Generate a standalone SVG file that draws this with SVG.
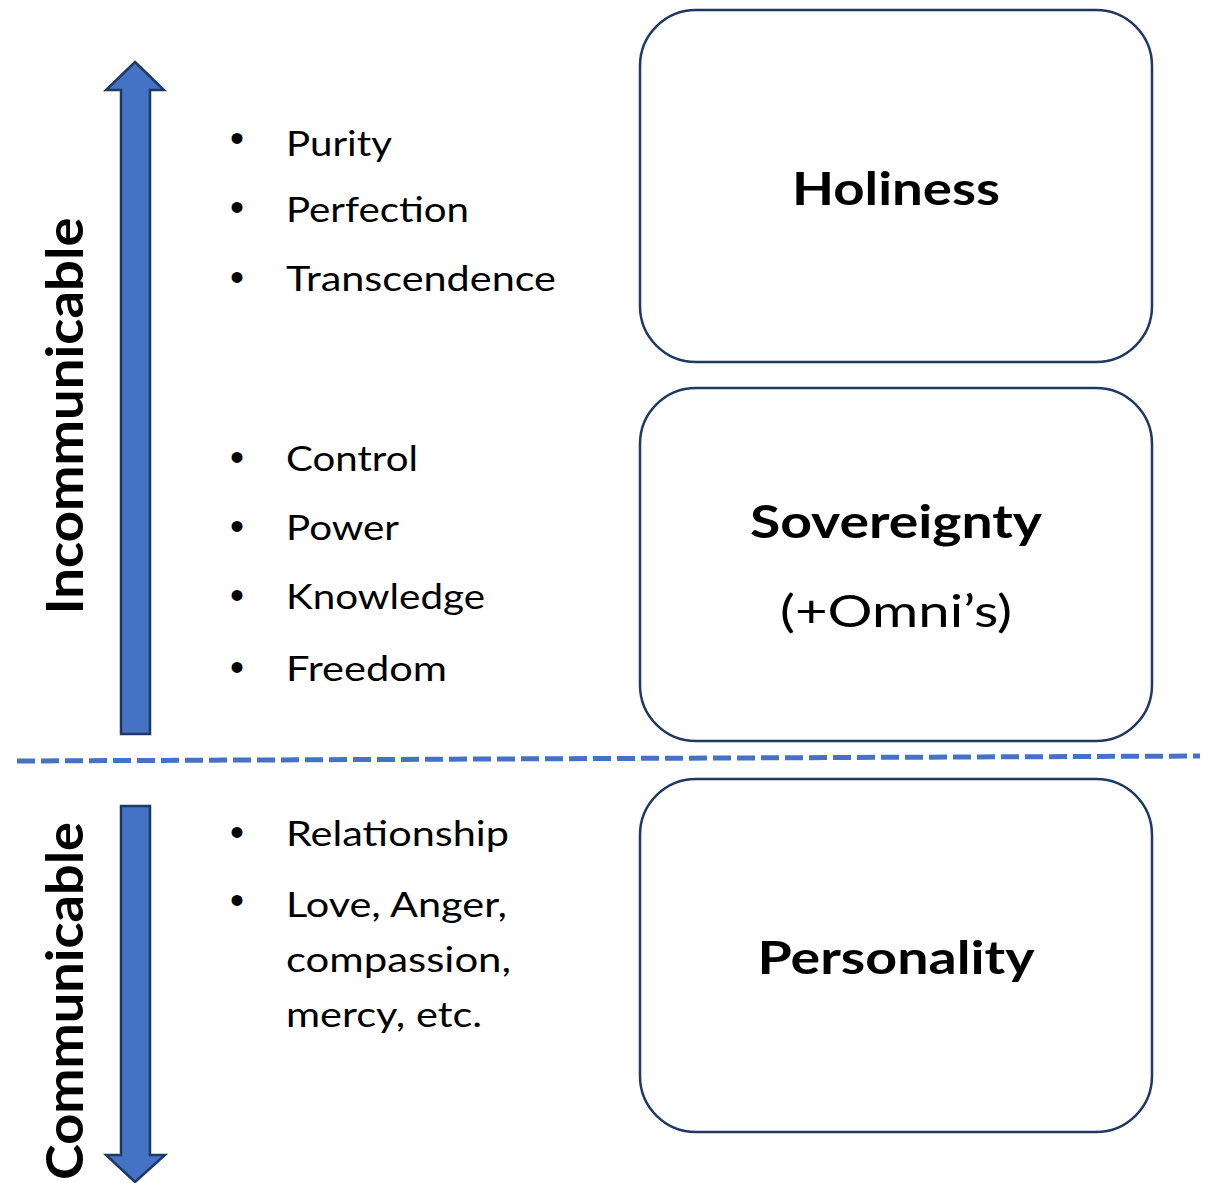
<svg xmlns="http://www.w3.org/2000/svg" width="1211" height="1183" viewBox="0 0 1211 1183">
<style>
.box{fill:#ffffff;stroke:#1f3864;stroke-width:2.5}
.arrow{fill:#4472c4;stroke:#1f3864;stroke-width:2.5;stroke-linejoin:miter}
.item{font-family:Lato,"Open Sans",sans-serif;font-size:35px;fill:#000}
.bul{font-family:"Liberation Sans",sans-serif;font-size:40px;fill:#000}
.title{font-family:Lato,"Open Sans",sans-serif;font-size:45px;font-weight:bold;fill:#000;text-anchor:middle}
.sub{font-family:Lato,"Open Sans",sans-serif;font-size:45px;fill:#000;text-anchor:middle}
.side{font-family:Lato,"Open Sans",sans-serif;font-size:52px;font-weight:bold;fill:#000;text-anchor:middle}
</style>
<rect width="1211" height="1183" fill="#ffffff"/>
<g id="connectors">
<polygon class="arrow" points="135,62 164,90 150,90 150,734 121,734 121,90 106,90"/>
<polygon class="arrow" points="121,806 150,806 150,1155 165,1155 135,1182 106,1155 121,1155"/>
<line x1="17" y1="761" x2="1200" y2="756" stroke="#4472c4" stroke-width="5" stroke-dasharray="18 6"/>
</g>
<g id="label-incommunicable">
<text class="side" transform="translate(83,416) rotate(-90)" textLength="397" lengthAdjust="spacingAndGlyphs">Incommunicable</text>
</g>
<g id="label-communicable">
<text class="side" transform="translate(83,1001) rotate(-90)" textLength="358" lengthAdjust="spacingAndGlyphs">Communicable</text>
</g>
<g id="list-holiness">
<text class="bul" x="230" y="152">•</text>
<text class="item" x="286" y="156" textLength="106" lengthAdjust="spacingAndGlyphs">Purity</text>
<text class="bul" x="230" y="221">•</text>
<text class="item" x="286" y="222" textLength="183" lengthAdjust="spacingAndGlyphs">Perfection</text>
<text class="bul" x="230" y="291">•</text>
<text class="item" x="286" y="291" textLength="270" lengthAdjust="spacingAndGlyphs">Transcendence</text>
</g>
<g id="list-sovereignty">
<text class="bul" x="230" y="471">•</text>
<text class="item" x="286" y="471" textLength="132" lengthAdjust="spacingAndGlyphs">Control</text>
<text class="bul" x="230" y="540">•</text>
<text class="item" x="286" y="540" textLength="113" lengthAdjust="spacingAndGlyphs">Power</text>
<text class="bul" x="230" y="609">•</text>
<text class="item" x="286" y="609" textLength="199" lengthAdjust="spacingAndGlyphs">Knowledge</text>
<text class="bul" x="230" y="681">•</text>
<text class="item" x="286" y="681" textLength="161" lengthAdjust="spacingAndGlyphs">Freedom</text>
</g>
<g id="list-personality">
<text class="bul" x="230" y="846">•</text>
<text class="item" x="286" y="846" textLength="223" lengthAdjust="spacingAndGlyphs">Relationship</text>
<text class="bul" x="230" y="914">•</text>
<text class="item" x="286" y="917" textLength="221" lengthAdjust="spacingAndGlyphs">Love, Anger,</text>
<text class="item" x="286" y="972" textLength="225" lengthAdjust="spacingAndGlyphs">compassion,</text>
<text class="item" x="286" y="1027" textLength="196" lengthAdjust="spacingAndGlyphs">mercy, etc.</text>
</g>
<g id="node-holiness">
<rect class="box" x="640" y="10" width="512" height="352" rx="56" ry="56"/>
<text class="title" x="896" y="205" textLength="208" lengthAdjust="spacingAndGlyphs">Holiness</text>
</g>
<g id="node-sovereignty">
<rect class="box" x="640" y="388" width="512" height="353" rx="56" ry="56"/>
<text class="title" x="896" y="538" textLength="292" lengthAdjust="spacingAndGlyphs">Sovereignty</text>
<text class="sub" x="896" y="627" textLength="232" lengthAdjust="spacingAndGlyphs">(+Omni’s)</text>
</g>
<g id="node-personality">
<rect class="box" x="640" y="779" width="512" height="353" rx="56" ry="56"/>
<text class="title" x="896" y="974" textLength="277" lengthAdjust="spacingAndGlyphs">Personality</text>
</g>
</svg>
